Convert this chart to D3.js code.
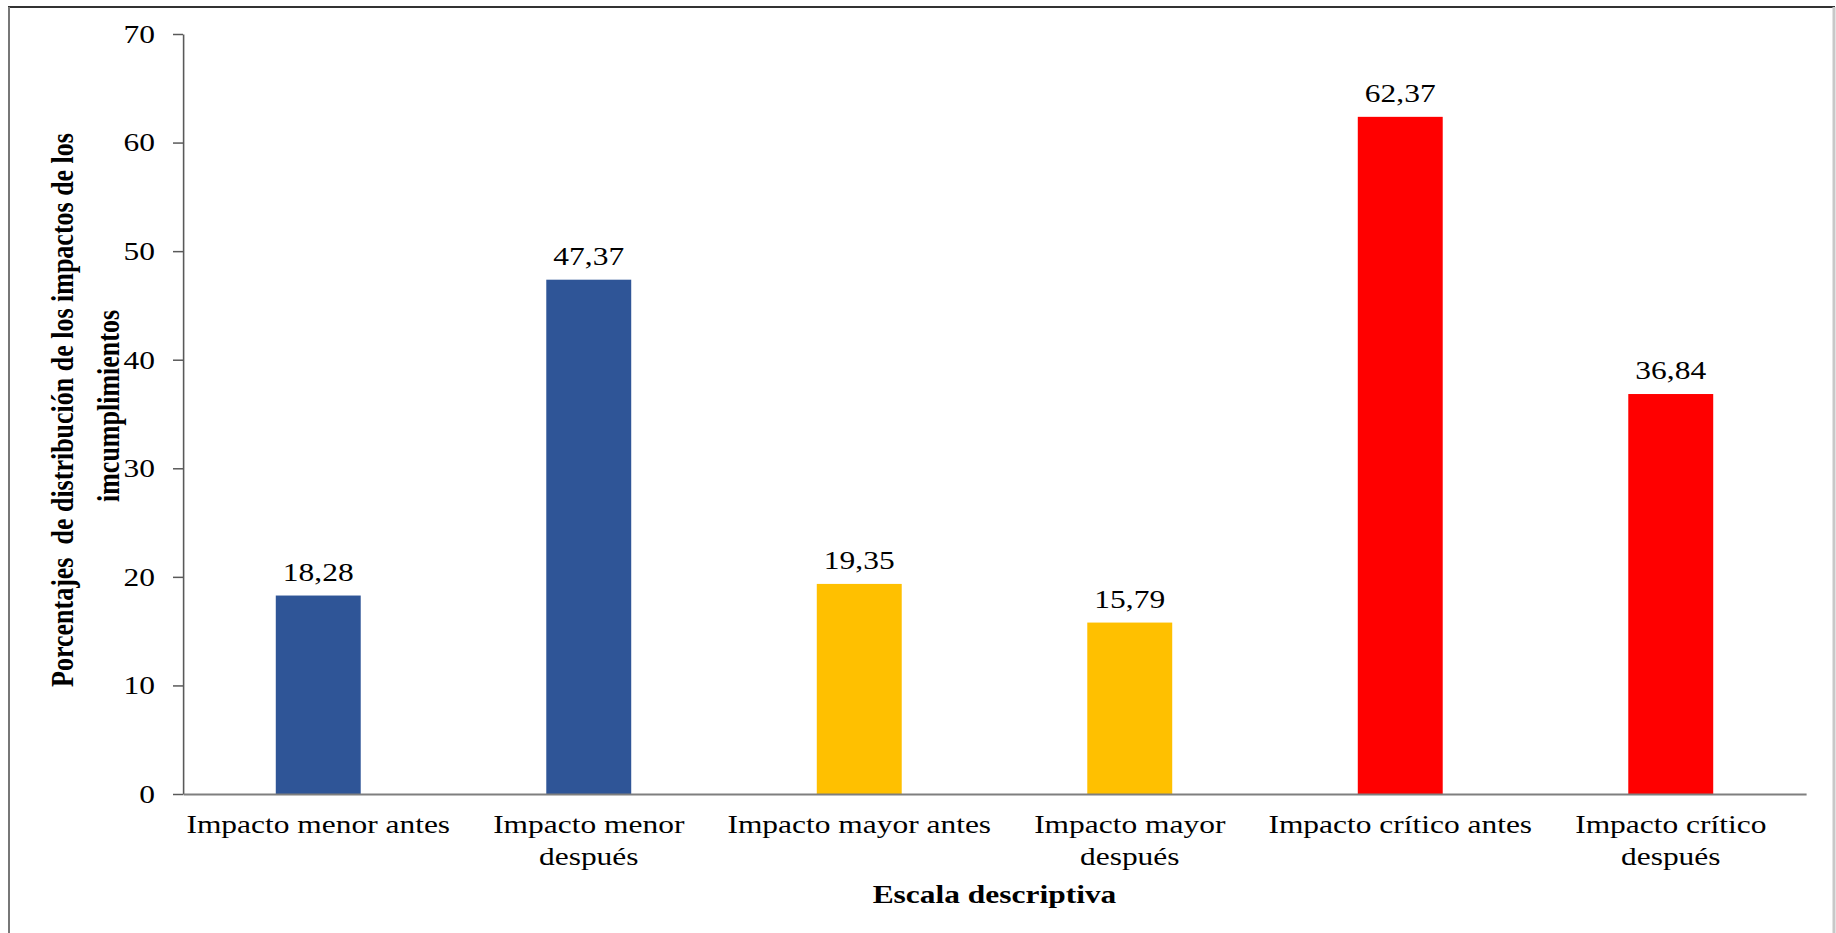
<!DOCTYPE html>
<html>
<head>
<meta charset="utf-8">
<script src="https://cdn.jsdelivr.net/npm/d3@7"></script>
<style>
  body { margin: 0; background: #fff; }
  text { font-family: "Liberation Serif", "Times New Roman", serif; fill: #000; }
</style>
</head>
<body>
<div id="chart"></div>
<script>
// values
var categories = ["Impacto menor antes", "Impacto menor\ndespués", "Impacto mayor antes",
                  "Impacto mayor\ndespués", "Impacto crítico antes", "Impacto crítico\ndespués"];
var values = [18.28, 47.37, 19.35, 15.79, 62.37, 36.84];
var barColors = ["#2f5597", "#2f5597", "#ffc000", "#ffc000", "#ff0000", "#ff0000"];
var yTicks = [0, 10, 20, 30, 40, 50, 60, 70];
var yTitle = ["Porcentajes  de distribución de los impactos de los", "imcumplimientos"];
var xTitle = "Escala descriptiva";

var W = 1836, H = 933;
// the source picture is stretched sideways, so draw in a squeezed frame and scale it back
var SX = 1.21;
var margin = {top: 34, right: 30, bottom: 139, left: 183};

var svg = d3.select("#chart").append("svg")
    .attr("width", W)
    .attr("height", H);

// outer frame
svg.append("line").attr("x1", 8).attr("x2", 1835).attr("y1", 7).attr("y2", 7)
    .attr("stroke", "#333").attr("stroke-width", 2);
svg.append("line").attr("x1", 9).attr("x2", 9).attr("y1", 7).attr("y2", H)
    .attr("stroke", "#777").attr("stroke-width", 2);
svg.append("line").attr("x1", 1834).attr("x2", 1834).attr("y1", 7).attr("y2", H)
    .attr("stroke", "#c8c8c8").attr("stroke-width", 3);

var g = svg.append("g").attr("transform", "scale(" + SX + ",1)");

var x0 = margin.left / SX, x1 = (W - margin.right) / SX;
var y0 = H - margin.bottom, y1 = margin.top;

var x = d3.scaleBand()
    .domain(categories)
    .range([x0, x1])
    .paddingInner(0.686)
    .paddingOuter(0.343);

var y = d3.scaleLinear()
    .domain([0, 70])
    .range([y0, y1]);

var loc = d3.formatLocale({decimal: ",", thousands: ".", grouping: [3], currency: ["", ""]});
var fmt = loc.format(".2f");

// bars
g.selectAll(".bar")
  .data(values)
  .enter()
  .append("rect")
    .attr("class", "bar")
    .attr("x", function(d, i) { return x(categories[i]); })
    .attr("y", function(d) { return y(d); })
    .attr("width", x.bandwidth())
    .attr("height", function(d) { return y(0) - y(d); })
    .attr("fill", function(d, i) { return barColors[i]; });

// data labels
g.selectAll(".lbl")
  .data(values)
  .enter()
  .append("text")
    .attr("class", "lbl")
    .attr("x", function(d, i) { return x(categories[i]) + x.bandwidth() / 2; })
    .attr("y", function(d) { return y(d) - 15; })
    .attr("text-anchor", "middle")
    .attr("font-size", "26px")
    .text(function(d) { return fmt(d); });

// Y axis
var yAxis = g.append("g")
    .attr("transform", "translate(" + x0 + ",0)")
    .call(d3.axisLeft(y).tickValues(yTicks).tickSize(10 / SX).tickPadding(18 / SX).tickSizeOuter(0));
yAxis.select(".domain").attr("stroke", "#595959").attr("stroke-width", 1.3);
yAxis.selectAll(".tick line").attr("stroke", "#595959").attr("stroke-width", 1.5);
yAxis.selectAll(".tick text")
    .attr("font-size", "26px")
    .attr("font-family", "Liberation Serif")
    .attr("fill", "#000");

// X axis
var xAxis = g.append("g")
    .attr("transform", "translate(0," + y0 + ")")
    .call(d3.axisBottom(x).tickSize(0).tickSizeOuter(0).tickFormat(""));
xAxis.select(".domain").attr("stroke", "#7f7f7f").attr("stroke-width", 2);

xAxis.selectAll(".tick").each(function(d) {
  var t = d3.select(this).append("text")
      .attr("text-anchor", "middle")
      .attr("font-size", "26px")
      .attr("y", 39);
  d.split("\n").forEach(function(line, i) {
    t.append("tspan").attr("x", 0).attr("dy", i == 0 ? 0 : 32).text(line);
  });
});

// axis titles
g.append("text")
    .attr("x", (x0 + x1) / 2)
    .attr("y", 903)
    .attr("text-anchor", "middle")
    .attr("font-size", "26px")
    .attr("font-weight", "bold")
    .text(xTitle);

var tx = [62 / SX, 108 / SX];
var ty = [410, 406];
yTitle.forEach(function(line, i) {
  g.append("text")
    .attr("transform", "translate(" + tx[i] + "," + ty[i] + ") rotate(-90)")
    .attr("dy", "0.35em")
    .attr("text-anchor", "middle")
    .attr("font-size", "26px")
    .attr("font-weight", "bold")
    .style("white-space", "pre")
    .text(line);
});
</script>
</body>
</html>
